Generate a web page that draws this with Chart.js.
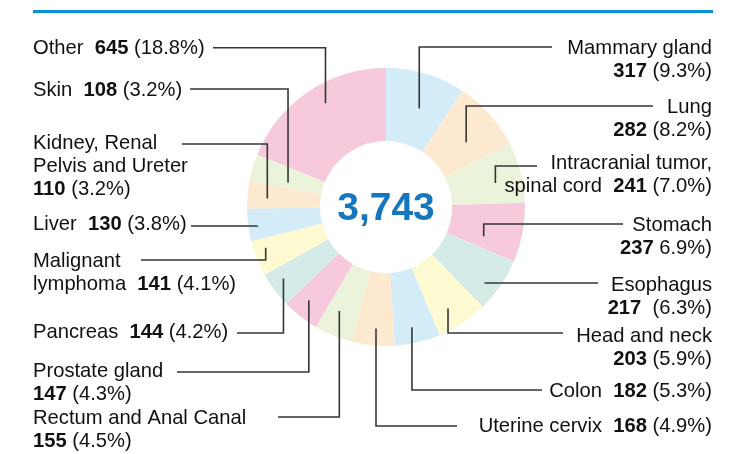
<!DOCTYPE html>
<html>
<head>
<meta charset="utf-8">
<script src="https://cdn.jsdelivr.net/npm/chart.js@4"></script>
<style>
  html, body { margin: 0; padding: 0; background: #fff; }
  #wrap { width: 744px; height: 454px; }
</style>
</head>
<body>
<div id="wrap"><canvas id="chart" width="744" height="454"></canvas></div>
<script>
// cancer sites, clockwise from 12 o'clock
const categories = ['Mammary gland', 'Lung', 'Intracranial tumor,\nspinal cord', 'Stomach', 'Esophagus',
    'Head and neck', 'Colon', 'Uterine cervix', 'Rectum and Anal Canal', 'Prostate gland', 'Pancreas',
    'Malignant\nlymphoma', 'Liver', 'Kidney, Renal\nPelvis and Ureter', 'Skin', 'Other'];
const counts = [317, 282, 241, 237, 217, 203, 182, 168, 155, 147, 144, 141, 130, 110, 108, 645];
const shares = ['(9.3%)', '(8.2%)', '(7.0%)', '6.9%)', '(6.3%)', '(5.9%)', '(5.3%)', '(4.9%)',
    '(4.5%)', '(4.3%)', '(4.2%)', '(4.1%)', '(3.8%)', '(3.2%)', '(3.2%)', '(18.8%)'];
const totalLabel = '3,743';

const sliceColors = ['#d4ebf8', '#fde8d0', '#ebf3da', '#f6c9dc', '#d4ebe8', '#fdf9d0',
    '#d4ebf8', '#fde8d0', '#ebf3da', '#f6c9dc', '#d4ebe8', '#fdf9d0',
    '#d4ebf8', '#fde8d0', '#ebf3da', '#f6c9dc'];

// label placement: side, first baseline, leader y, leader x at text end, anchor radius, angle tweak, value on same line
const labelPos = [
    {side: 'R', y: 54,    ly: 47,  lx: 552, r: 104, da: 2,    same: false},
    {side: 'R', y: 113,   ly: 106, lx: 653, r: 103, da: 3,    same: false},
    {side: 'R', y: 168.5, ly: 166, lx: 537, r: 112, da: 2,    same: true},
    {side: 'R', y: 230.5, ly: 224, lx: 623, r: 102, da: 6,    same: false},
    {side: 'R', y: 290.5, ly: 283, lx: 598, r: 125, da: 3,    same: false, gap: '  '},
    {side: 'R', y: 341.5, ly: 333, lx: 563, r: 119, da: 2,    same: false},
    {side: 'R', y: 397,   ly: 390, lx: 542, r: 123, da: 1,    same: true},
    {side: 'R', y: 431.5, ly: 426, lx: 457, r: 122, da: -0.5, same: true},
    {side: 'L', y: 424,   ly: 417, lx: 278, r: 114, da: 2,    same: false},
    {side: 'L', y: 377,   ly: 372, lx: 177, r: 121, da: 1.6,  same: false},
    {side: 'L', y: 337.5, ly: 333, lx: 237, r: 125, da: 1.8,  same: true},
    {side: 'L', y: 267,   ly: 260, lx: 141, r: 127, da: 3,    same: true},
    {side: 'L', y: 230,   ly: 226, lx: 191, r: 130, da: -0.8, same: true},
    {side: 'L', y: 148.5, ly: 144, lx: 182, r: 119, da: -1,   same: false},
    {side: 'L', y: 96,    ly: 89,  lx: 190, r: 101, da: -2.5, same: true},
    {side: 'L', y: 54,    ly: 47.7,lx: 213, r: 120, da: 3.6,  same: true}
];

const FONT = '"Liberation Sans", Arial, sans-serif';
const SIZE = '20.2px ';

function buildLines(i) {
    const p = labelPos[i];
    const nameLines = categories[i].split('\n');
    const lines = nameLines.map(t => [[t, false]]);
    const valueRuns = [[String(counts[i]), true], [(p.gap || ' ') + shares[i], false]];
    if (p.same) {
        lines[lines.length - 1].push(['  ', false]);
        lines[lines.length - 1].push(...valueRuns);
    } else {
        lines.push(valueRuns);
    }
    return lines;
}

const labelPlugin = {
    id: 'labels',
    afterDraw(chart) {
        const c = chart.ctx;
        const meta = chart.getDatasetMeta(0);
        c.save();

        // top rule
        c.fillStyle = '#0b8fd9';
        c.fillRect(33, 10, 680, 3);

        // leaders
        c.strokeStyle = '#363636';
        c.lineWidth = 1.6;
        meta.data.forEach((arc, i) => {
            const p = labelPos[i];
            const a = arc.getProps(['x', 'y', 'startAngle', 'endAngle', 'outerRadius'], true);
            const mid = (a.startAngle + a.endAngle) / 2 + p.da * Math.PI / 180;
            const rr = a.outerRadius * p.r / 139;
            const ax = a.x + rr * Math.cos(mid);
            const ay = a.y + rr * Math.sin(mid);
            c.beginPath();
            c.moveTo(p.lx, p.ly);
            c.lineTo(ax, p.ly);
            c.lineTo(ax, ay);
            c.stroke();
        });

        // texts
        c.textBaseline = 'alphabetic';
        c.textAlign = 'left';
        c.fillStyle = '#111';
        labelPos.forEach((p, i) => {
            buildLines(i).forEach((runs, k) => {
                const y = p.y + k * 23;
                let w = 0;
                runs.forEach(r => {
                    c.font = (r[1] ? 'bold ' : '') + SIZE + FONT;
                    w += c.measureText(r[0]).width;
                });
                let x = p.side === 'L' ? 33 : 712 - w;
                runs.forEach(r => {
                    c.font = (r[1] ? 'bold ' : '') + SIZE + FONT;
                    c.fillText(r[0], x, y);
                    x += c.measureText(r[0]).width;
                });
            });
        });

        // centre total
        const a0 = meta.data[0];
        c.font = 'bold 39px ' + FONT;
        c.fillStyle = '#1577be';
        c.textAlign = 'center';
        c.textBaseline = 'middle';
        c.fillText(totalLabel, a0.x, a0.y + 2);
        c.restore();
    }
};

new Chart(document.getElementById('chart'), {
    type: 'doughnut',
    data: {
        labels: categories,
        datasets: [{
            data: counts,
            backgroundColor: sliceColors,
            borderWidth: 0
        }]
    },
    options: {
        responsive: false,
        animation: false,
        cutout: '47.5%',
        layout: {padding: {top: 68, bottom: 108, left: 247, right: 219}},
        plugins: {
            legend: {display: false},
            tooltip: {enabled: false}
        },
        events: []
    },
    plugins: [labelPlugin]
});
</script>
</body>
</html>
